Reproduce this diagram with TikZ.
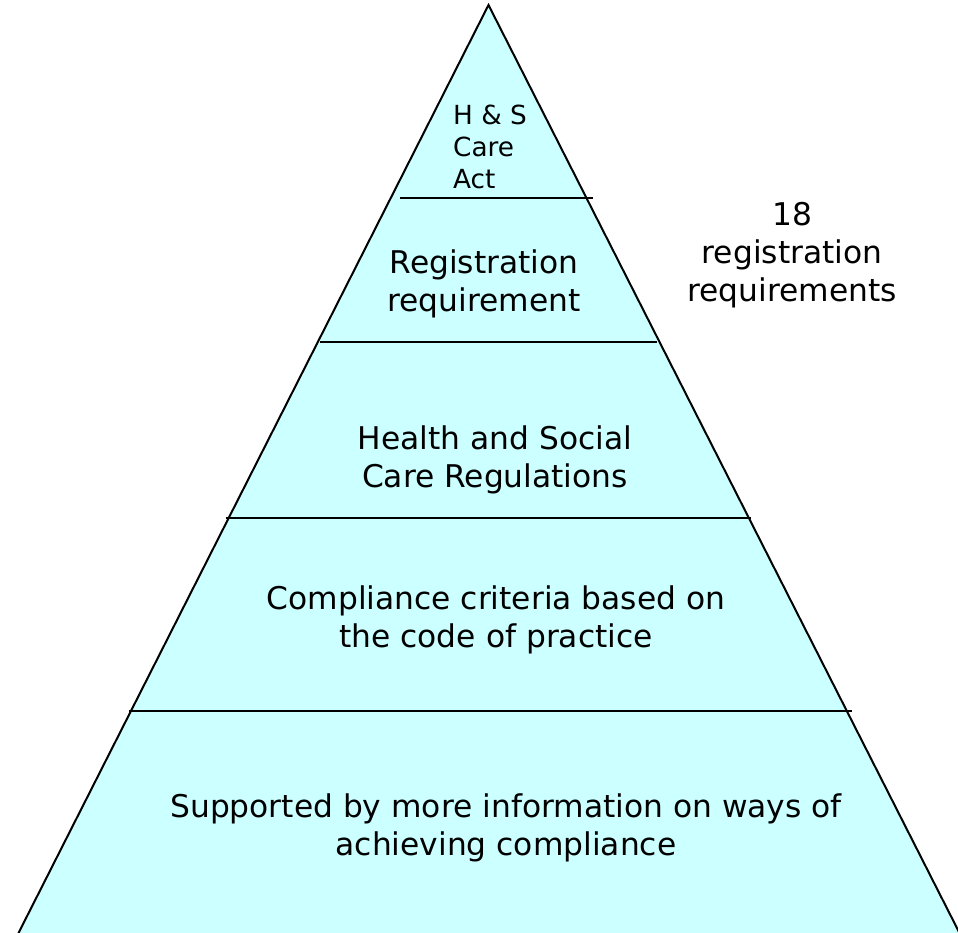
\documentclass[tikz,border=0pt]{standalone}
\usepackage{fontspec}
\setmainfont{DejaVu Sans}
\definecolor{pyrfill}{HTML}{CCFFFF}
\tikzset{
  tier/.style={align=center, inner sep=0pt, font=\fontsize{31.3}{38}\selectfont},
  tiersmall/.style={align=left, inner sep=0pt, font=\fontsize{26.3}{32}\selectfont},
  tierline/.style={black, line width=2pt},
}
\begin{document}
\begin{tikzpicture}[x=10pt,y=10pt]
  \useasboundingbox (0,0) rectangle (95.8,-93.3);
  % outline of the pyramid
  \coordinate (apex) at (48.85,-0.5);
  \coordinate (bl) at (1.8,-93.4);
  \coordinate (br) at (96.0,-93.4);
  \fill [pyrfill] (bl) -- (apex) -- (br) -- cycle;
  \draw [tierline] (bl) -- (apex) -- (br);
  % tier separators
  \draw [tierline] (40.0,-19.8) -- (59.3,-19.8);
  \draw [tierline] (32.0,-34.2) -- (65.7,-34.2);
  \draw [tierline] (22.6,-51.8) -- (75.1,-51.8);
  \draw [tierline] (12.85,-71.1) -- (85.2,-71.1);
  % labels
  \node [tiersmall] (act) at (49.0,-14.7) {H \& S\\Care\\Act};
  \node [tier] (regreq) at (48.4,-28.4) {Registration\\requirement};
  \node [tier] (hscr) at (49.5,-46.0) {Health and Social\\Care Regulations};
  \node [tier] (crit) at (49.6,-61.95) {Compliance criteria based on\\the code of practice};
  \node [tier] (info) at (50.6,-82.8) {Supported by more information on ways of\\achieving compliance};
  \node [tier] (eighteen) at (79.2,-25.5) {18\\registration\\requirements};
\end{tikzpicture}
\end{document}
